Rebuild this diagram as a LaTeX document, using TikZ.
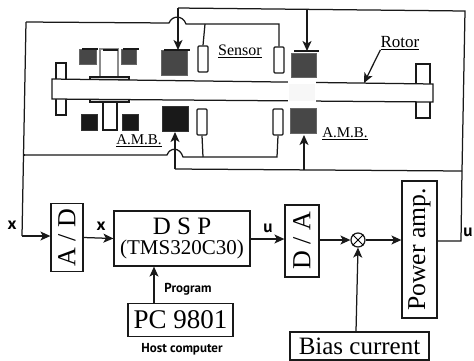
\documentclass[tikz,border=0pt]{standalone}
\usepackage{fontspec}
\setmainfont{Liberation Serif}
\newfontfamily\lblfont{PT Sans}
\usetikzlibrary{arrows.meta,calc}
\newcommand{\fs}[1]{\fontsize{#1}{#1}\selectfont}
\newcommand{\vtext}[1]{\rotatebox{90}{#1}}
\tikzset{
  ink/.style={line width=1.25pt,draw=black!90},
  box/.style={ink,inner sep=0pt,rectangle,fill=white},
  wire/.style={ink},
  sig/.style={ink,-{Stealth[inset=2.6pt,length=10pt,width=9pt]}},
  sensorbox/.style={ink,fill=white,rounded corners=1pt,minimum width=10pt,minimum height=26pt,inner sep=0pt},
  magnetdark/.style={fill=black!90,draw=black!80,line width=.5pt,inner sep=0pt},
  magnetgrey/.style={fill=black!72,draw=black!60,line width=.5pt,inner sep=0pt},
  lab/.style={inner sep=0pt},
  small/.style={inner sep=0pt,font=\lblfont\bfseries\fs{13}},
  sym/.style={inner sep=0pt,font=\lblfont\bfseries\fs{17}},
}
\begin{document}
\begin{tikzpicture}[x=1pt,y=-1pt]
\useasboundingbox (0,0) rectangle (474,360);
% rotor parts
\node[box,minimum width=10pt,minimum height=52pt] (diskL) at (61,89) {};
\node[box,minimum width=14pt,minimum height=54pt] (diskR) at (423,91) {};
\node[box,draw=black!45,minimum width=18pt,minimum height=32pt] (stemU) at (109,65) {};
\node[box,minimum width=14pt,minimum height=32pt] (stemD) at (110,114) {};
\draw[ink,fill=black!15] (90,77) rectangle (129,80);
\draw[ink,fill=black!15] (90,99) rectangle (129,102);
\draw[ink,fill=white] (52,79) -- (433,84) -- (433,102) -- (52,99) -- cycle;
\fill[white] (288,78) rectangle (316,104);
\fill[black!3] (289,84) rectangle (315,101);
% magnets
\node[magnetgrey,minimum width=17pt,minimum height=15pt] (mA) at (88,57) {};
\node[magnetgrey,minimum width=15pt,minimum height=15pt] (mB) at (129,57) {};
\node[magnetdark,minimum width=16pt,minimum height=16pt] (mC) at (89,122) {};
\node[magnetdark,minimum width=16pt,minimum height=16pt] (mD) at (130,122) {};
\node[magnetgrey,minimum width=26pt,minimum height=25pt] (mE) at (174,62.5) {};
\node[magnetdark,minimum width=26pt,minimum height=25pt] (mF) at (175,119) {};
\node[magnetgrey,minimum width=25pt,minimum height=24pt] (mG) at (303.5,65) {};
\node[magnetgrey,minimum width=26pt,minimum height=25pt] (mH) at (303.5,120.5) {};
\draw[ink] (82,49) -- (98,49) (103,50) -- (118,50) (123,49) -- (139,49) (164,50) -- (190,50) (294,51) -- (319,51);
% sensors
\node[sensorbox] (s1) at (203,59) {};
\node[sensorbox] (s2) at (202,122) {};
\node[sensorbox] (s3) at (279,60) {};
\node[sensorbox] (s4) at (278,122) {};
% wires
\coordinate (tl) at (26,22);
\coordinate (hL) at (169,23);
\coordinate (hR) at (186,24);
\coordinate (tr) at (279,24);
\coordinate (bl) at (25,155);
\coordinate (h2L) at (167,155);
\coordinate (h2R) at (183,157);
\coordinate (br) at (277,157);
\coordinate (c1) at (178,8);
\coordinate (c2) at (462,10);
\coordinate (c3) at (175,169);
\coordinate (c4) at (462,171);
\draw[wire] (tl) -- (hL) .. controls (172,15) and (183,15) .. (hR) -- (tr) -- (s3.north);
\draw[wire] (s1.north) -- (205,24);
\draw[wire] (bl) -- (h2L) .. controls (170,147) and (180,147) .. (h2R) -- (br) -- (s4.south);
\draw[wire] (s2.south) -- (203,157);
\draw[wire] (tl) -- (22,236);
\draw[wire] (bl) -- (24,155);
\draw[wire] (c1) -- (465,11) -- (462,171);
\draw[wire] (c3) -- (c4);
\draw[sig] (c1) -- (178,50);
\draw[sig] (307,9) -- (307,51);
\draw[sig] (c3) -- (175,132);
\draw[sig] (304,170) -- (304,135);
% labels upper
\node[lab,font=\fs{16}] (lsensor) at (240,51) {\underline{Sensor}};
\node[lab,font=\fs{17}] (lrotor) at (400,43) {\underline{Rotor}};
\node[lab,font=\fs{15}] (amb1) at (139,141) {\underline{A.M.B.}};
\node[lab,font=\fs{15}] (amb2) at (345,134) {\underline{A.M.B.}};
\coordinate (rtip) at (364,83);
\draw[sig] (lrotor.south west) -- (rtip);
% blocks
\node[box,minimum width=32pt,minimum height=68pt,font=\fs{26}] (ad) at (67,237.5) {\vtext{A / D}};
\node[box,minimum width=136pt,minimum height=55pt,align=center] (dsp) at (182,238.5)
  {{\fs{25}D S P}\\[5pt]{\fs{21}(TMS320C30)}};
\node[box,minimum width=34pt,minimum height=72pt,font=\fs{26}] (da) at (302,241) {\vtext{D / A}};
\node[box,minimum width=35pt,minimum height=137pt,font=\fs{25.7}] (pw) at (419.5,249.5) {\vtext{Power amp.}};
\node[box,minimum width=105pt,minimum height=33pt,font=\fs{27}] (pc) at (180.5,320) {PC 9801};
\node[box,minimum width=139pt,minimum height=28pt,font=\fs{25}] (bias) at (359.5,346) {Bias current};
\node[circle,ink,minimum size=14pt,inner sep=0pt] (sum) at (358,240) {};
\draw[line width=.8pt] (sum.north west) -- (sum.south east) (sum.north east) -- (sum.south west);
% block connectors
\draw[sig] (22,236) -- (ad.west |- 0,236);
\draw[sig] (ad.east) -- (dsp.west);
\draw[sig] (dsp.east |- 0,239) -- (da.west |- 0,239);
\draw[sig] (da.east |- 0,240) -- (sum.west);
\draw[sig] (sum.east) -- (pw.west |- 0,240);
\draw[sig] (bias.north -| 356,0) -- (sum.south);
\draw[sig] (pc.north -| 154,0) -- (dsp.south -| 154,0);
\draw[wire] (pw.east |- 0,241) -- (461,241) -- (c4);
% block labels
\node[sym] (x1) at (12,225) {x};
\node[sym] (x2) at (101,226) {x};
\node[sym] (u1) at (268,228) {u};
\node[sym] (u2) at (468,232) {u};
\node[small] (lprog) at (188,289) {Program};
\node[small] (lhost) at (182,349) {Host computer};
\end{tikzpicture}
\end{document}
